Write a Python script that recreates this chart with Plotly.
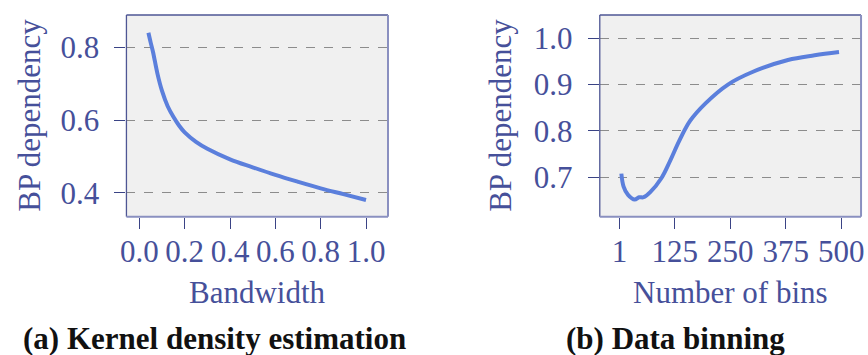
import plotly.graph_objects as go

# ---- data ----
bandwidth = [0.04, 0.05, 0.06, 0.08, 0.10, 0.125, 0.15, 0.175, 0.2, 0.25, 0.3, 0.4, 0.5, 0.6, 0.7, 0.8, 0.9, 1.0]
bp_kde = [0.84, 0.813, 0.788, 0.727, 0.68, 0.638, 0.609, 0.585, 0.566, 0.54, 0.521, 0.492, 0.47, 0.449, 0.43, 0.412, 0.396, 0.38]

bins = [5, 10, 20, 35, 45, 55, 70, 95, 115, 135, 160, 195, 245, 300, 380, 440, 495]
bp_bins = [0.708, 0.68, 0.662, 0.652, 0.657, 0.657, 0.668, 0.698, 0.736, 0.778, 0.822, 0.86, 0.9, 0.927, 0.953, 0.963, 0.97]

kde_xticks = [0.0, 0.2, 0.4, 0.6, 0.8, 1.0]
kde_xlabels = ["0.0", "0.2", "0.4", "0.6", "0.8", "1.0"]
kde_yticks = [0.4, 0.6, 0.8]
kde_ylabels = ["0.4", "0.6", "0.8"]
bins_xticks = [1, 125, 250, 375, 500]
bins_xlabels = ["1", "125", "250", "375", "500"]
bins_yticks = [0.7, 0.8, 0.9, 1.0]
bins_ylabels = ["0.7", "0.8", "0.9", "1.0"]

W, H = 868, 355
FONT = "Liberation Serif"
TXT = "#46509a"
TICK = "#3a4385"
LINE = "#5b7fdc"
FS = 31


def px_x(p):
    return p / W


def px_y(p):
    return 1 - p / H


fig = go.Figure()
fig.add_trace(go.Scatter(x=bandwidth, y=bp_kde, mode="lines", line=dict(color=LINE, width=4, shape="spline"),
                         xaxis="x", yaxis="y", showlegend=False))
fig.add_trace(go.Scatter(x=bins, y=bp_bins, mode="lines", line=dict(color=LINE, width=4, shape="spline"),
                         xaxis="x2", yaxis="y2", showlegend=False))

dom_y = [px_y(216.7), px_y(15)]
common_x = dict(showgrid=False, zeroline=False, ticks="outside", ticklen=11, tickwidth=1.3, tickcolor=TICK,
                tickfont=dict(family=FONT, size=FS, color=TXT), showline=False, ticklabelstandoff=-4)
common_y = dict(showgrid=True, gridcolor="#8c8c8c", griddash="dash", gridwidth=1.2, zeroline=False,
                ticks="outside", ticklen=11, tickwidth=1.3, tickcolor=TICK,
                tickfont=dict(family=FONT, size=FS, color=TXT), showline=False, ticklabelstandoff=9)

fig.update_layout(
    width=W, height=H, margin=dict(l=0, r=0, t=0, b=0),
    paper_bgcolor="white", plot_bgcolor="#f0f0f0",
    xaxis=dict(domain=[px_x(121.7), px_x(386)], range=[-0.057, 1.097], tickvals=kde_xticks, ticktext=kde_xlabels,
               anchor="y", **common_x),
    yaxis=dict(domain=dom_y, range=[0.334, 0.889], tickvals=kde_yticks, ticktext=kde_ylabels, anchor="x", **common_y),
    xaxis2=dict(domain=[px_x(600), px_x(864)], range=[-43.6, 544.6], tickvals=bins_xticks, ticktext=bins_xlabels,
                anchor="y2", **common_x),
    yaxis2=dict(domain=dom_y, range=[0.615, 1.05], tickvals=bins_yticks, ticktext=bins_ylabels, anchor="x2", **common_y),
)

# frames
for xr, yr in (("x", "y"), ("x2", "y2")):
    xd, yd = xr + " domain", yr + " domain"
    fig.add_shape(type="line", xref=xd, yref=yd, x0=0, x1=1, y0=1, y1=1, line=dict(color="#4e5694", width=1.3))
    fig.add_shape(type="line", xref=xd, yref=yd, x0=0, x1=0, y0=0, y1=1, line=dict(color="#4e5694", width=1.3))
    fig.add_shape(type="line", xref=xd, yref=yd, x0=1, x1=1, y0=0, y1=1, line=dict(color="#8a90c0", width=2))
    fig.add_shape(type="line", xref=xd, yref=yd, x0=0, x1=1, y0=0, y1=0, line=dict(color="#8a90c0", width=2))

ann_font = dict(family=FONT, size=FS, color=TXT)
fig.add_annotation(text="BP dependency", x=px_x(23), y=px_y(115), xref="paper", yref="paper", textangle=-90,
                   showarrow=False, font=ann_font, xanchor="center", yanchor="middle")
fig.add_annotation(text="BP dependency", x=px_x(499), y=px_y(115), xref="paper", yref="paper", textangle=-90,
                   showarrow=False, font=ann_font, xanchor="center", yanchor="middle")
fig.add_annotation(text="Bandwidth", x=px_x(254), y=px_y(292), xref="paper", yref="paper",
                   showarrow=False, font=ann_font, xanchor="center", yanchor="middle")
fig.add_annotation(text="Number of bins", x=px_x(732), y=px_y(292), xref="paper", yref="paper",
                   showarrow=False, font=ann_font, xanchor="center", yanchor="middle")
cap_font = dict(family=FONT, size=31, color="#111111")
fig.add_annotation(text="<b>(a) Kernel density estimation</b>", x=px_x(406), y=px_y(338), xref="paper", yref="paper",
                   showarrow=False, font=cap_font, xanchor="right", yanchor="middle")
fig.add_annotation(text="<b>(b) Data binning</b>", x=px_x(677), y=px_y(338), xref="paper", yref="paper",
                   showarrow=False, font=cap_font, xanchor="center", yanchor="middle")

fig.write_html("out.html", config={"displayModeBar": False},
               post_script="document.body.style.margin='0';document.body.style.overflow='hidden';")
